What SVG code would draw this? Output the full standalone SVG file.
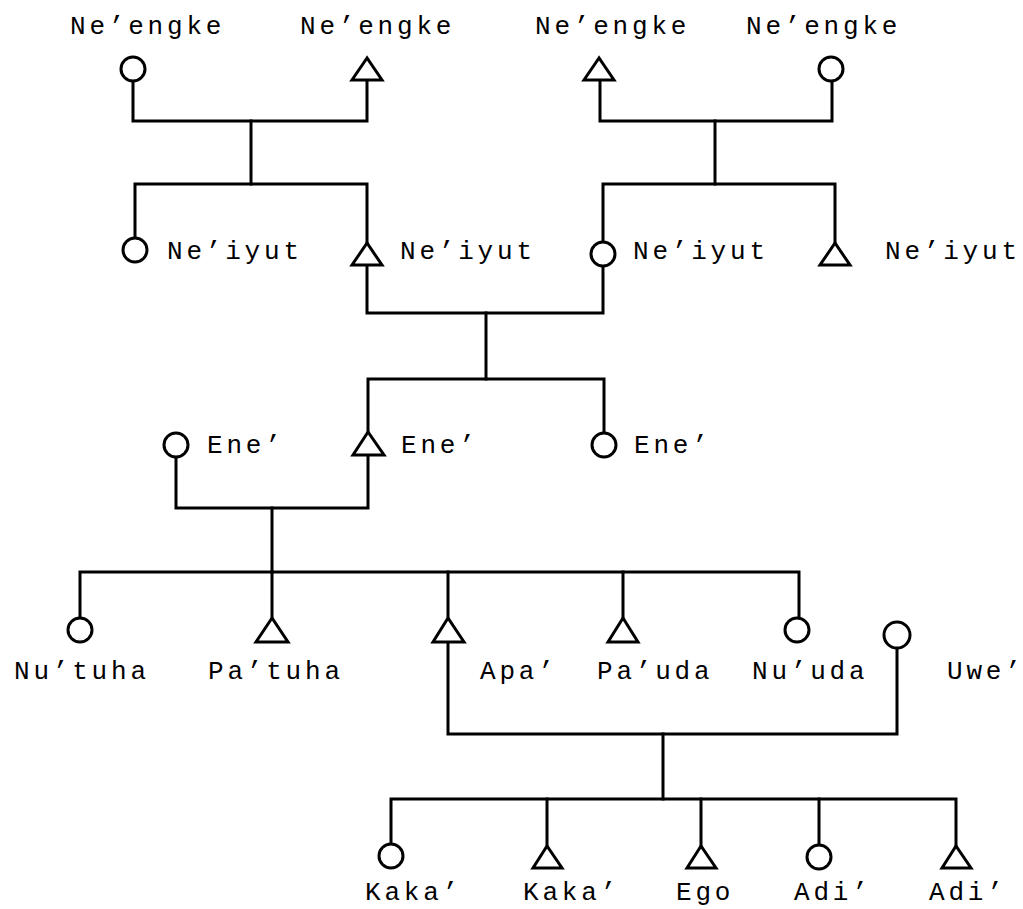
<svg xmlns="http://www.w3.org/2000/svg" width="1023" height="909" viewBox="0 0 1023 909">
<style>
.c{fill:none;stroke:#000;stroke-width:3;stroke-linejoin:miter;stroke-linecap:square}
.f{fill:#fff;stroke:#000;stroke-width:3}
.m{fill:#fff;stroke:#000;stroke-width:3;stroke-linejoin:miter}
text{font-family:"Liberation Mono","DejaVu Sans Mono",monospace;font-size:26px;letter-spacing:3.8px;fill:#000}
</style>
<rect width="1023" height="909" fill="#fff"/>
<g id="connectors">
<path class="c" d="M133,81V121H367V80"/>
<path class="c" d="M251,121V184"/>
<path class="c" d="M135,238V184H367V243"/>
<path class="c" d="M600,80V121H832V81"/>
<path class="c" d="M715,121V184"/>
<path class="c" d="M603,242V184H835V243"/>
<path class="c" d="M367,265V313H603V266"/>
<path class="c" d="M486,313V379"/>
<path class="c" d="M368,432V379H604V433"/>
<path class="c" d="M176,457V508H368V455"/>
<path class="c" d="M272,508V572"/>
<path class="c" d="M80,618V572H799V618"/>
<path class="c" d="M272,572V618M448,572V618M623,572V618"/>
<path class="c" d="M448,642V734H897V648"/>
<path class="c" d="M663,734V799"/>
<path class="c" d="M391,844V799H956V846"/>
<path class="c" d="M547,799V846M701,799V846M819,799V845"/>
</g>
<g id="n1"><circle class="f" cx="133" cy="69" r="12"/><text x="70" y="34">Ne’engke</text></g>
<g id="n2"><polygon class="m" points="367,58 352,80 382,80"/><text x="300" y="34">Ne’engke</text></g>
<g id="n3"><polygon class="m" points="599,58 584,80 614,80"/><text x="535" y="34">Ne’engke</text></g>
<g id="n4"><circle class="f" cx="831" cy="69" r="12"/><text x="746" y="34">Ne’engke</text></g>
<g id="n5"><circle class="f" cx="135" cy="250" r="12"/><text x="167" y="259">Ne’iyut</text></g>
<g id="n6"><polygon class="m" points="367,243 352,265 382,265"/><text x="400" y="259">Ne’iyut</text></g>
<g id="n7"><circle class="f" cx="603" cy="254" r="12"/><text x="633" y="259">Ne’iyut</text></g>
<g id="n8"><polygon class="m" points="835,243 820,265 850,265"/><text x="885" y="259">Ne’iyut</text></g>
<g id="n9"><circle class="f" cx="176" cy="445" r="12"/><text x="207" y="453">Ene’</text></g>
<g id="n10"><polygon class="m" points="368,432 353,455 384,455"/><text x="401" y="453">Ene’</text></g>
<g id="n11"><circle class="f" cx="604" cy="445" r="12"/><text x="634" y="453">Ene’</text></g>
<g id="n12"><circle class="f" cx="80" cy="630" r="12"/><text x="14" y="679">Nu’tuha</text></g>
<g id="n13"><polygon class="m" points="272,618 256,642 288,642"/><text x="208" y="679">Pa’tuha</text></g>
<g id="n14"><polygon class="m" points="448,618 433,642 464,642"/><text x="480" y="679">Apa’</text></g>
<g id="n15"><polygon class="m" points="623,618 608,642 638,642"/><text x="597" y="679">Pa’uda</text></g>
<g id="n16"><circle class="f" cx="797" cy="630" r="12"/><text x="752" y="679">Nu’uda</text></g>
<g id="n17"><circle class="f" cx="897" cy="635" r="13"/><text x="947" y="679">Uwe’</text></g>
<g id="n18"><circle class="f" cx="391" cy="856" r="12"/><text x="365" y="900">Kaka’</text></g>
<g id="n19"><polygon class="m" points="547,846 533,868 562,868"/><text x="523" y="900">Kaka’</text></g>
<g id="n20"><polygon class="m" points="701,846 687,868 716,868"/><text x="676" y="900">Ego</text></g>
<g id="n21"><circle class="f" cx="819" cy="857" r="12"/><text x="794" y="900">Adi’</text></g>
<g id="n22"><polygon class="m" points="956,846 942,868 971,868"/><text x="929" y="900">Adi’</text></g>
</svg>
